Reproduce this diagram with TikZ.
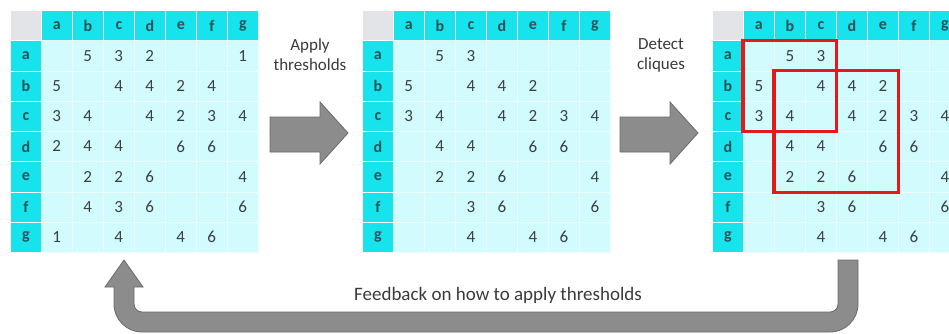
\documentclass[tikz,border=0pt]{standalone}
\usepackage{fontspec}
\setmainfont{Carlito}
\definecolor{hdrcyan}{HTML}{16E3EB}
\definecolor{cellcyan}{HTML}{D2FBFD}
\definecolor{cornergray}{HTML}{E2E4E7}
\definecolor{numtext}{HTML}{374141}
\definecolor{hdrtext}{HTML}{2A5257}
\definecolor{lbltext}{HTML}{3A3A3A}
\definecolor{cliquered}{HTML}{E21A1A}
\definecolor{arrowfill}{HTML}{8C8C8C}
\definecolor{arrowedge}{HTML}{6A6A6A}
\tikzset{
  basecell/.style={anchor=north west, inner sep=0pt, minimum width=31pt,
    minimum height=30.25pt, font=\fontsize{17}{17}\selectfont},
  hdr/.style={basecell, fill=hdrcyan, draw=white, line width=0.8pt, text=hdrtext,
    font=\fontsize{16}{16}\selectfont\bfseries},
  corner/.style={basecell, fill=cornergray, draw=white, line width=0.8pt},
  cell/.style={basecell, fill=cellcyan, draw=white!55!cellcyan, line width=0.6pt, text=numtext},
  clique/.style={draw=cliquered, line width=3.2pt},
  blockarrow/.style={fill=arrowfill, draw=arrowedge, line width=0.8pt},
  steplabel/.style={align=center, text=lbltext, font=\fontsize{17}{20}\selectfont},
}
% #1 name prefix, #2 left edge, #3 rows of values (0 = empty cell)
\newcommand\adjtable[3]{%
  \node[corner] (#1-0-0) at (#2,10) {};
  \foreach \l [count=\i] in {a,b,c,d,e,f,g} {
    \node[hdr] (#1-0-\i) at (#2+\i*31,10) {\l};
    \node[hdr] (#1-\i-0) at (#2,10+\i*30.25) {\l};
  }
  \foreach \row [count=\r] in {#3} {
    \foreach \v [count=\c] in \row {
      \node[cell] (#1-\r-\c) at (#2+\c*31,10+\r*30.25) {\ifnum\v=0 \else\v\fi};
    }
  }%
}
\begin{document}
\begin{tikzpicture}[x=1pt,y=-1pt]
  \useasboundingbox (0,0) rectangle (949,333);
  \clip (0,0) rectangle (949,333);

  % raw weights
  \adjtable{L}{10}{{0,5,3,2,0,0,1},{5,0,4,4,2,4,0},{3,4,0,4,2,3,4},{2,4,4,0,6,6,0},{0,2,2,6,0,0,4},{0,4,3,6,0,0,6},{1,0,4,0,4,6,0}}
  % after thresholding
  \adjtable{M}{362}{{0,5,3,0,0,0,0},{5,0,4,4,2,0,0},{3,4,0,4,2,3,4},{0,4,4,0,6,6,0},{0,2,2,6,0,0,4},{0,0,3,6,0,0,6},{0,0,4,0,4,6,0}}
  % detected cliques
  \adjtable{R}{712}{{0,5,3,0,0,0,0},{5,0,4,4,2,0,0},{3,4,0,4,2,3,4},{0,4,4,0,6,6,0},{0,2,2,6,0,0,4},{0,0,3,6,0,0,6},{0,0,4,0,4,6,0}}
  \draw[clique] (R-1-1.north west) rectangle (R-3-3.south east);
  \draw[clique] (R-2-2.north west) rectangle (R-5-5.south east);

  % step arrows and their labels
  \node[steplabel] (applylbl) at (310,55) {Apply\\thresholds};
  \node[steplabel] (detectlbl) at (661,55) {Detect\\cliques};
  \draw[blockarrow] (270,117) -- (320,117) -- (320,102) -- (348,133) -- (320,164)
    -- (320,152) -- (270,152) -- cycle;
  \draw[blockarrow] (620,117) -- (670,117) -- (670,102) -- (698,133) -- (670,164)
    -- (670,152) -- (620,152) -- cycle;

  % feedback loop back to the first step
  \coordinate (fbstart) at (848,260);
  \coordinate (fbtip) at (124,260);
  \draw[blockarrow] ([xshift=-10pt]fbstart) -- ([xshift=10pt]fbstart) -- (858,304)
    .. controls (858,319.5) and (845.5,332) .. (830,332) -- (142,332)
    .. controls (126.5,332) and (114,319.5) .. (114,304) -- (114,287) -- (105,287)
    -- (fbtip) -- (143,287) -- (134,287) -- (134,304)
    .. controls (134,308.4) and (137.6,312) .. (142,312) -- (830,312)
    .. controls (834.4,312) and (838,308.4) .. (838,304) -- cycle;
  \node[steplabel, font=\fontsize{19}{20}\selectfont] (fblbl) at (498,295)
    {Feedback on how to apply thresholds};
\end{tikzpicture}
\end{document}
